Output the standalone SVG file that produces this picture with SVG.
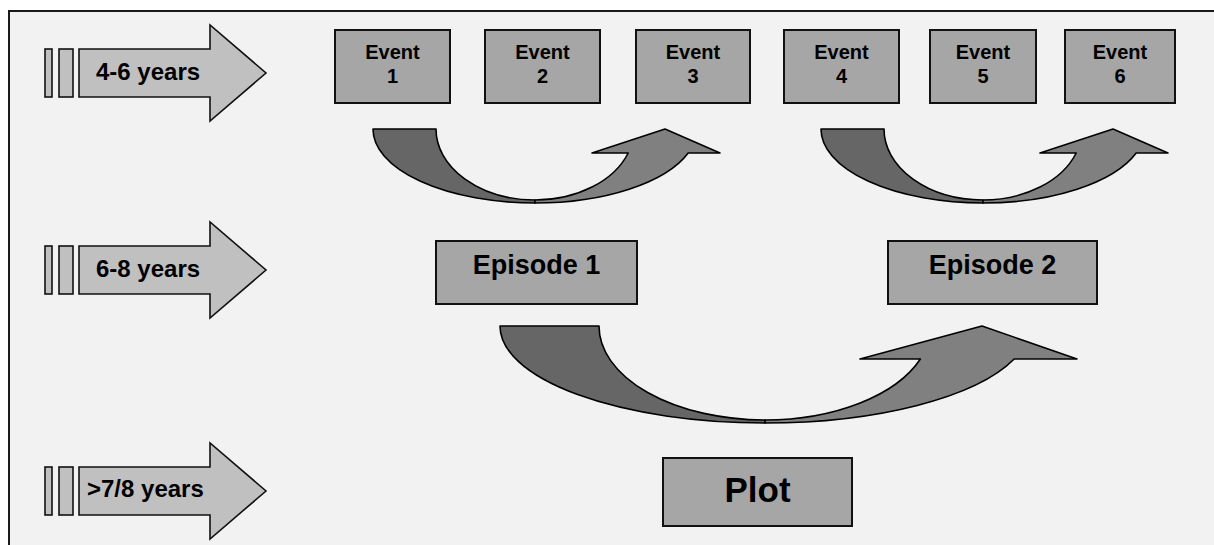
<svg xmlns="http://www.w3.org/2000/svg" width="1214" height="545" viewBox="0 0 1214 545">
<style>
.lbl{font-family:"Liberation Sans",Arial,sans-serif;font-weight:bold;fill:#000}
.age{fill:#c0c0c0;stroke:#111;stroke-width:1.6}
.box{fill:#a6a6a6;stroke:#111;stroke-width:2}
.dark{fill:#666666;stroke:#000;stroke-width:1.6;stroke-linejoin:round}
.light{fill:#808080;stroke:#000;stroke-width:1.6;stroke-linejoin:round}
</style>
<rect x="0" y="0" width="1214" height="545" fill="#ffffff"/>
<rect x="9" y="11" width="1205" height="534" fill="#f2f2f2"/>
<path d="M9,545 V11 H1214" fill="none" stroke="#1a1a1a" stroke-width="2"/>

<g id="age1">
<rect class="age" x="45" y="49" width="7" height="48"/>
<rect class="age" x="59" y="49" width="14" height="48"/>
<path class="age" d="M79,49 H210 V25 L266,73 L210,121 V97 H79 Z"/>
<text class="lbl" x="96" y="80" font-size="24">4-6 years</text>
</g>
<g id="age2">
<rect class="age" x="45" y="246" width="7" height="48"/>
<rect class="age" x="59" y="246" width="14" height="48"/>
<path class="age" d="M79,246 H210 V222 L266,270 L210,318 V294 H79 Z"/>
<text class="lbl" x="96" y="277" font-size="24">6-8 years</text>
</g>
<g id="age3">
<rect class="age" x="45" y="467" width="7" height="48"/>
<rect class="age" x="59" y="467" width="14" height="48"/>
<path class="age" d="M79,467 H210 V443 L266,491 L210,539 V515 H79 Z"/>
<text class="lbl" x="87" y="497" font-size="24">&gt;7/8 years</text>
</g>

<g id="event1"><rect class="box" x="335" y="30" width="115" height="73"/><text class="lbl" font-size="20" text-anchor="middle" x="392.5" y="59">Event</text><text class="lbl" font-size="20" text-anchor="middle" x="392.5" y="83">1</text></g>
<g id="event2"><rect class="box" x="485" y="30" width="115" height="73"/><text class="lbl" font-size="20" text-anchor="middle" x="542.5" y="59">Event</text><text class="lbl" font-size="20" text-anchor="middle" x="542.5" y="83">2</text></g>
<g id="event3"><rect class="box" x="636" y="30" width="114" height="73"/><text class="lbl" font-size="20" text-anchor="middle" x="693" y="59">Event</text><text class="lbl" font-size="20" text-anchor="middle" x="693" y="83">3</text></g>
<g id="event4"><rect class="box" x="784" y="30" width="115" height="73"/><text class="lbl" font-size="20" text-anchor="middle" x="841.5" y="59">Event</text><text class="lbl" font-size="20" text-anchor="middle" x="841.5" y="83">4</text></g>
<g id="event5"><rect class="box" x="930" y="30" width="106" height="73"/><text class="lbl" font-size="20" text-anchor="middle" x="983" y="59">Event</text><text class="lbl" font-size="20" text-anchor="middle" x="983" y="83">5</text></g>
<g id="event6"><rect class="box" x="1065" y="30" width="110" height="73"/><text class="lbl" font-size="20" text-anchor="middle" x="1120" y="59">Event</text><text class="lbl" font-size="20" text-anchor="middle" x="1120" y="83">6</text></g>

<g id="episode1"><rect class="box" x="436" y="241" width="201" height="63"/><text class="lbl" font-size="27" text-anchor="middle" x="536.5" y="274">Episode 1</text></g>
<g id="episode2"><rect class="box" x="888" y="241" width="209" height="63"/><text class="lbl" font-size="27" text-anchor="middle" x="992.5" y="274">Episode 2</text></g>
<g id="plot"><rect class="box" x="663" y="458" width="189" height="68"/><text class="lbl" font-size="35" text-anchor="middle" x="757.5" y="502">Plot</text></g>

<g id="connectors">
<g id="curve1">
<path class="dark" d="M373,129 H436 A99,71 0 0 0 535,200 L535,203 A162,74 0 0 1 373,129 Z"/>
<path class="light" d="M535,203 A162,74 0 0 0 688.2,153 H720 L665,129 L592,153 H628.2 A99,71 0 0 1 535,200 Z"/>
</g>
<g id="curve2" transform="translate(448,0)">
<path class="dark" d="M373,129 H436 A99,71 0 0 0 535,200 L535,203 A162,74 0 0 1 373,129 Z"/>
<path class="light" d="M535,203 A162,74 0 0 0 688.2,153 H720 L665,129 L592,153 H628.2 A99,71 0 0 1 535,200 Z"/>
</g>
<g id="curve3">
<path class="dark" d="M500,326 H599 A166,94 0 0 0 765,420 L765,423 A265,97 0 0 1 500,326 Z"/>
<path class="light" d="M765,423 A265,97 0 0 0 1014.2,359 H1077 L982,326 L860,359 H920.4 A166,94 0 0 1 765,420 Z"/>
</g>
</g>
</svg>
